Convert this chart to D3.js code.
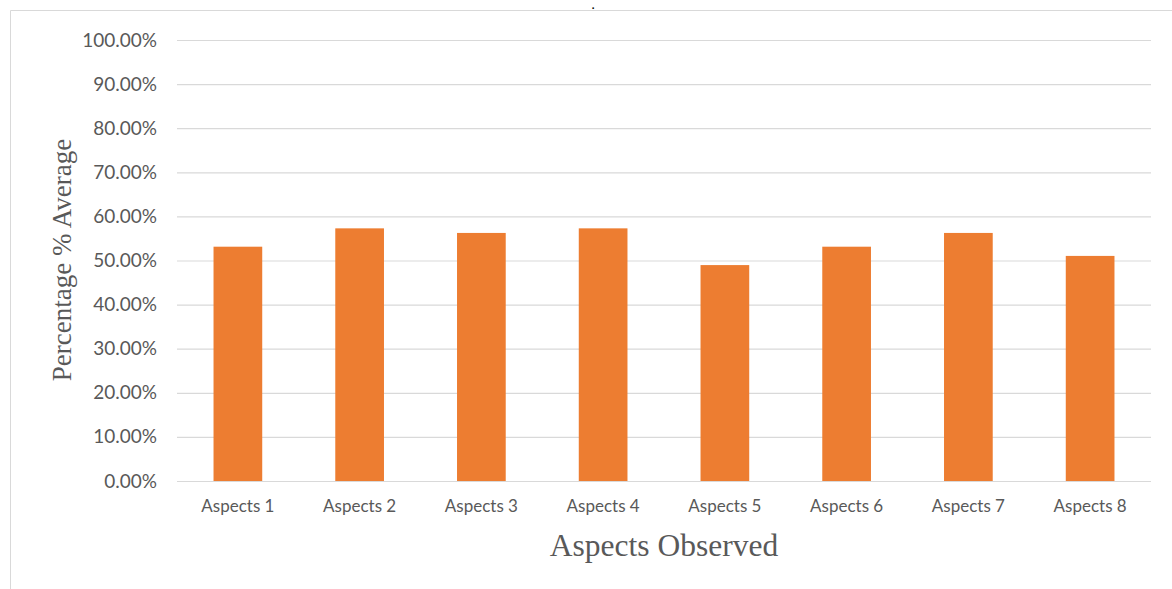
<!DOCTYPE html>
<html>
<head>
<meta charset="utf-8">
<script src="https://cdn.jsdelivr.net/npm/d3@7"></script>
<style>
  html, body { margin: 0; padding: 0; background: #fff; }
  svg { display: block; }
</style>
</head>
<body>
<svg id="chart" width="1172" height="589"></svg>
<script>
// Average percentage per observed aspect
const categories = ["Aspects 1", "Aspects 2", "Aspects 3", "Aspects 4",
                    "Aspects 5", "Aspects 6", "Aspects 7", "Aspects 8"];
const averages = [0.5313, 0.5729, 0.5625, 0.5729, 0.4896, 0.5313, 0.5625, 0.5104];
const yTicks = [0, 0.1, 0.2, 0.3, 0.4, 0.5, 0.6, 0.7, 0.8, 0.9, 1.0];

const svg = d3.select("#chart");
const margin = { left: 177, right: 21, top: 40, bottom: 108 };
const W = 1172, H = 589;

// outer chart-area frame (top and left edges)
svg.append("path")
  .attr("d", `M10.5,${H} L10.5,10.5 L${W},10.5`)
  .attr("fill", "none")
  .attr("stroke", "#d9d9d9")
  .attr("stroke-width", 1);

// title remnant above the frame
svg.append("text")
  .attr("x", 593).attr("y", 9)
  .attr("font-family", "Liberation Serif")
  .attr("font-size", 11)
  .attr("font-weight", "bold")
  .attr("fill", "#000")
  .attr("text-anchor", "middle")
  .text(".");

const x = d3.scaleBand()
  .domain(categories)
  .range([margin.left, W - margin.right])
  .paddingInner(0.6)
  .paddingOuter(0.3);

const y = d3.scaleLinear()
  .domain([0, 1])
  .range([H - margin.bottom, margin.top]);

// horizontal gridlines + tick labels
const yAxis = d3.axisLeft(y)
  .tickValues(yTicks)
  .tickFormat(d3.format(".2%"))
  .tickSize(-(W - margin.right - margin.left))
  .tickPadding(20);

const gy = svg.append("g")
  .attr("transform", `translate(${margin.left},0)`)
  .call(yAxis);
gy.select(".domain").remove();
gy.selectAll(".tick line").attr("stroke", "#d9d9d9").attr("stroke-width", 1.2);
gy.selectAll(".tick text")
  .attr("fill", "#595959")
  .attr("font-family", "Lato, 'Open Sans', sans-serif")
  .attr("font-size", 19);

// bars
svg.append("g").selectAll("rect")
  .data(categories)
  .join("rect")
  .attr("x", d => x(d))
  .attr("width", x.bandwidth())
  .attr("y", (d, i) => y(averages[i]))
  .attr("height", (d, i) => y(0) - y(averages[i]))
  .attr("fill", "#ED7D31");

// category axis
const xAxis = d3.axisBottom(x).tickSize(0).tickPadding(19);
const gx = svg.append("g")
  .attr("transform", `translate(0,${y(0)})`)
  .call(xAxis);
gx.select(".domain")
  .attr("stroke", "#d9d9d9")
  .attr("stroke-width", 1.2)
  .attr("d", `M${margin.left},0.5H${W - margin.right}`);
gx.selectAll(".tick text")
  .attr("fill", "#595959")
  .attr("font-family", "Lato, 'Open Sans', sans-serif")
  .attr("font-size", 17);

// axis titles
svg.append("text")
  .attr("x", 664).attr("y", 556)
  .attr("text-anchor", "middle")
  .attr("font-family", "'Liberation Serif', 'Times New Roman', serif")
  .attr("font-size", 31.5)
  .attr("fill", "#595959")
  .text("Aspects Observed");

svg.append("text")
  .attr("transform", "translate(71,260) rotate(-90)")
  .attr("text-anchor", "middle")
  .attr("font-family", "'Liberation Serif', 'Times New Roman', serif")
  .attr("font-size", 27)
  .attr("fill", "#595959")
  .text("Percentage % Average");
</script>
</body>
</html>
